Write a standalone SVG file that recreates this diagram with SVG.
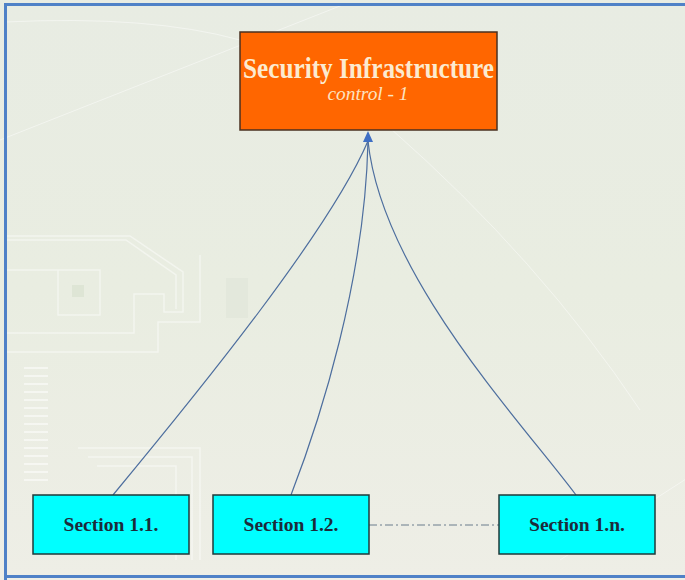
<svg xmlns="http://www.w3.org/2000/svg" width="685" height="580" viewBox="0 0 685 580">
  <defs>
    <linearGradient id="bg" x1="0" y1="0" x2="0" y2="1">
      <stop offset="0" stop-color="#E8ECE3"/>
      <stop offset="0.5" stop-color="#E9EDE1"/>
      <stop offset="1" stop-color="#EEEEE6"/>
    </linearGradient>
    <style>
      .deco { fill: none; stroke: #FFFFFF; stroke-opacity: 0.45; stroke-width: 1.5; }
      .decof { fill: none; stroke: #FFFFFF; stroke-opacity: 0.45; stroke-width: 1; }
      .conn { fill: none; stroke: #4D6E9E; stroke-width: 1.2; }
      .sect rect { fill: #00FFFF; stroke: #1F3A3A; stroke-width: 1.5; }
      .sect text { font-family: "Liberation Serif", "Times New Roman", serif; font-weight: bold; font-size: 19.5px; fill: #1C2B3A; text-anchor: middle; }
    </style>
  </defs>

  <!-- background -->
  <rect x="0" y="0" width="685" height="580" fill="url(#bg)"/>
  <g id="background-decoration">
    <path class="decof" d="M0,140 L345,4"/>
    <path class="decof" d="M5,22 Q150,15 240,40"/>
    <path class="decof" d="M390,128 Q540,260 640,410"/>
    <path class="decof" d="M560,560 L700,470"/>
    <path class="deco" d="M6,236 L130,236 L183,272 L183,312 L164,312 L164,294 L134,294 L134,333 L6,333"/>
    <path class="deco" d="M6,240 L126,240 L176,275 L176,309"/>
    <path class="deco" d="M6,270 L100,270 L100,315 L58,315 L58,270"/>
    <rect x="72" y="285" width="12" height="12" fill="#D9E1D0" opacity="0.7"/>
    <path class="deco" d="M200,255 L200,322 L158,322 L158,352 L6,352"/>
    <rect x="226" y="278" width="22" height="40" fill="#E0E4D8" opacity="0.6"/>
    <path class="deco" d="M78,448 L200,448 L200,560"/>
    <path class="deco" d="M88,457 L192,457 L192,560"/>
    <path class="deco" d="M97,466 L176,466 L176,560"/>
    <g stroke="#FFFFFF" stroke-opacity="0.5" stroke-width="2">
      <path d="M24,368 H48 M24,376 H48 M24,384 H48 M24,392 H48 M24,400 H48 M24,408 H48 M24,416 H48 M24,424 H48 M24,432 H48 M24,440 H48 M24,448 H48 M24,456 H48 M24,464 H48 M24,472 H48 M24,480 H48"/>
    </g>
  </g>

  <!-- frame -->
  <path d="M5.5,580 L5.5,4.5 L690,4.5 M5.5,576.5 L690,576.5" fill="none" stroke="#4F81C7" stroke-width="3"/>

  <!-- connectors -->
  <g id="connectors">
    <path class="conn" d="M113,495 C200,390 330,230 368,141"/>
    <path class="conn" d="M291,495 C320,420 365,280 368,141"/>
    <path class="conn" d="M576,495 C520,420 382,275 368,141"/>
    <path d="M369,525 L499,525" fill="none" stroke="#6A7C8C" stroke-width="1" stroke-dasharray="8,3,2,3"/>
    <path d="M368,131 L373,142 L363,142 z" fill="#3F6FC4"/>
  </g>

  <!-- top node -->
  <g id="security-infrastructure">
    <rect x="240" y="32" width="257" height="98" fill="#FF6600" stroke="#4A3020" stroke-width="1.5"/>
    <text x="368.5" y="78" font-family="'Liberation Serif', 'Times New Roman', serif" font-weight="bold" font-size="29" fill="#FCEBD0" text-anchor="middle" textLength="251" lengthAdjust="spacingAndGlyphs">Security Infrastructure</text>
    <text x="368" y="100" font-family="'Liberation Serif', 'Times New Roman', serif" font-style="italic" font-size="18" fill="#FCE3C0" text-anchor="middle" textLength="81" lengthAdjust="spacingAndGlyphs">control - 1</text>
  </g>

  <!-- section nodes -->
  <g id="section-1-1" class="sect">
    <rect x="33" y="495" width="156" height="59"/>
    <text x="111" y="531">Section 1.1.</text>
  </g>
  <g id="section-1-2" class="sect">
    <rect x="213" y="495" width="156" height="59"/>
    <text x="291" y="531">Section 1.2.</text>
  </g>
  <g id="section-1-n" class="sect">
    <rect x="499" y="495" width="156" height="59"/>
    <text x="577" y="531">Section 1.n.</text>
  </g>
</svg>
